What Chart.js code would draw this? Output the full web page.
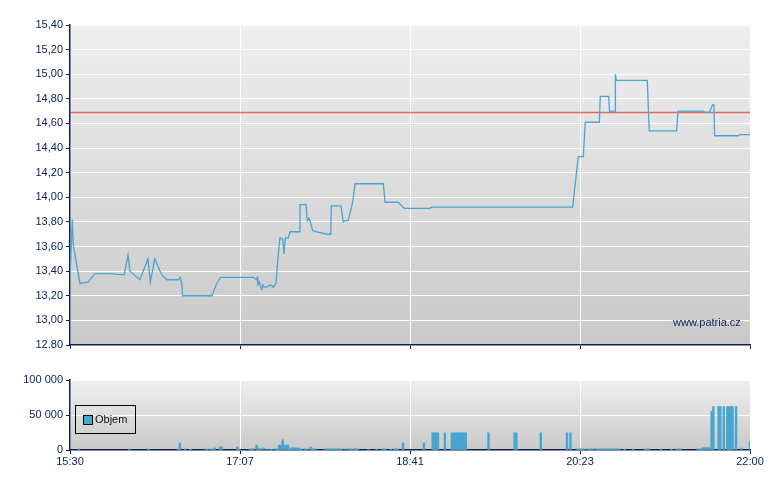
<!DOCTYPE html>
<html lang="cs">
<head>
<meta charset="utf-8">
<title>Patria – intraday</title>
<script src="https://cdn.jsdelivr.net/npm/chart.js@4.4.1/dist/chart.umd.min.js"></script>
<style>
  html,body{margin:0;padding:0;background:#fff;width:780px;height:490px;overflow:hidden;
    font-family:'Liberation Sans',Arial,sans-serif}
  #wrapP{position:absolute;left:0;top:0;width:780px;height:360px}
  #wrapV{position:absolute;left:0;top:360px;width:780px;height:130px}
  .wm{position:absolute;left:673px;top:316px;font-size:11px;color:#1b2b63;z-index:2}
  .lg{position:absolute;left:75px;top:405px;width:61px;height:29px;border:1px solid #000;
      box-sizing:border-box;z-index:2}
  .lg i{position:absolute;left:7px;top:9px;width:8px;height:8px;border:1px solid #000;background:#47a6cf}
  .lg span{position:absolute;left:19px;top:7px;font-size:11px;color:#111;line-height:12px}
</style>
</head>
<body>
<div id="wrapP"><canvas id="cPrice"></canvas></div>
<div id="wrapV"><canvas id="cVol"></canvas></div>
<div class="wm">www.patria.cz</div>
<div class="lg"><i></i><span>Objem</span></div>

<script>
/* osa x: minuty od 15:30 (0..390), popisky na ctvrtinach */
const X_TICKS  = [0, 97.5, 195, 292.5, 390];
const X_LABELS = ['15:30','17:07','18:41','20:23','22:00'];

const PREV_CLOSE = 14.69;     // cervena cara

/* kurz */
const PRICE_MIN = [0,1.3,1.9,5.7,10.5,14.3,22.9,31.1,33.3,34.4,
  40.1,44.7,46.1,48.6,52.6,55.5,62.1,63.1,64.1,64.6,
  81.4,84.1,86.4,105.1,106.7,107.4,107.8,108.6,109.4,110.1,
  110.5,111.3,112.8,115.1,116.6,118.1,119.5,120.4,122.0,122.7,
  123.5,125.2,126.2,131.5,131.9,135.4,136.1,137.2,139.2,141.5,
  147.2,149.5,149.9,155.4,156.7,157.7,159.6,162.1,163.5,179.7,
  180.7,188.3,191.7,206.5,207.6,288.3,291.5,294.4,295.5,303.6,
  304.1,308.9,309.5,310.3,312.6,312.8,313.3,331.1,332.2,347.9,
  348.7,363.2,364.1,366.6,368.6,369.3,369.7,383.2,384.2,390];
const PRICE_VAL = [13.33,13.82,13.61,13.30,13.31,13.38,13.38,13.37,13.53,13.40,
  13.33,13.50,13.31,13.50,13.37,13.33,13.33,13.35,13.30,13.20,
  13.20,13.30,13.35,13.35,13.33,13.35,13.29,13.31,13.27,13.25,
  13.29,13.27,13.27,13.29,13.27,13.30,13.54,13.67,13.66,13.54,
  13.67,13.67,13.72,13.72,13.94,13.94,13.81,13.83,13.73,13.72,
  13.70,13.70,13.93,13.93,13.80,13.81,13.81,13.96,14.11,14.11,
  13.96,13.96,13.91,13.91,13.92,13.92,14.33,14.33,14.61,14.61,
  14.82,14.82,14.69,14.70,14.70,15.00,14.95,14.95,14.54,14.54,
  14.70,14.70,14.69,14.69,14.75,14.75,14.50,14.50,14.51,14.51];

/* objem (po minutach) */
const VOL_MIN = [
  5,34,45,62,63,66,69,78,79,81,82,83,86,87,96,97,
  103,104,105,107,108,109,111,113,115,116,118,119,
  120,121,122,123,124,125,126,127,128,129,130,131,
  132,133,135,136,138,139,140,141,
  146,147,148,149,150,151,152,153,154,155,156,
  158,160,161,162,163,164,165,171,176,179,180,181,184,186,187,188,
  191,203,208,209,210,211,215,
  219,220,221,222,223,224,225,226,227,
  240,255,256,270,285,287,
  291,292,293,294,295,297,298,299,300,
  302,303,304,305,306,307,308,309,310,311,312,313,314,315,
  318,323,330,331,332,339,345,348,349,350,360,361,362,
  363,364,365,366,367,368,369,372,373,375,377,378,379,380,382,385,390];
const VOL_QTY = [
  1500,1200,1200,1000,10000,1500,1000,1400,1400,1400,1400,3000,4500,4500,4500,1000,
  1500,1500,1500,7000,3000,1500,3000,1200,1200,1200,1500,1500,
  7000,7000,14500,7000,7000,7000,1500,3000,3000,3000,3000,3000,
  1500,1500,1500,1500,4500,1500,1500,1500,
  1500,1500,1500,1500,1500,1500,1500,1500,1500,1500,1500,
  1500,1500,1500,1500,1500,1500,1500,1200,1200,1500,1500,1500,1200,1500,1500,1500,
  10000,10000,24500,24500,24500,24500,24500,
  24500,24500,24500,24500,24500,24500,24500,24500,24500,
  24500,24500,24500,24500,24500,24500,
  1500,1500,1500,1500,1500,1500,1500,1500,1500,
  1500,1500,1500,1500,1500,1500,1500,1500,1500,1500,1500,1500,1500,1500,
  1200,1200,1500,1500,1500,1200,1200,1500,1500,1500,1500,1500,1500,
  3300,3300,3300,3300,3300,55000,62000,62000,62000,62000,62000,62000,62000,62000,62000,3000,11500];

const NAVY = '#0b1f52';

/* sedy gradient pod grafem */
const plotBg = {
  id:'plotBg',
  beforeDraw(chart){
    const {ctx, chartArea:a} = chart;
    const g = ctx.createLinearGradient(0, a.top, 0, a.bottom);
    g.addColorStop(0, '#efefef'); g.addColorStop(1, '#c9c9c9');
    ctx.save(); ctx.fillStyle = g;
    ctx.fillRect(a.left, a.top, a.right - a.left, a.bottom - a.top);
    ctx.restore();
  }
};

function xScale(labels){
  return {
    type:'linear', min:0, max:390, offset:false,
    afterBuildTicks: s => { s.ticks = X_TICKS.map(v => ({value:v})); },
    afterFit: s => { s.height = labels ? 40 : 15; },
    ticks:{display:labels, autoSkip:false, maxRotation:0, padding:1, color:NAVY,
           font:{size:11}, callback:(v,i) => X_LABELS[i]},
    grid:{color:'#ffffff', lineWidth:1, tickColor:NAVY, tickLength:4, offset:false},
    border:{color:NAVY, width:1.5}
  };
}
function yScale(extra){
  return Object.assign({
    afterFit: s => { s.width = 70; },
    grid:{color:'#ffffff', lineWidth:1, tickColor:NAVY, tickLength:4},
    border:{color:NAVY, width:1.5}
  }, extra);
}

const base = {
  responsive:true, maintainAspectRatio:false, animation:false,
  plugins:{legend:{display:false}, tooltip:{enabled:false}}
};

function main(){
  Chart.defaults.font.family = "'Liberation Sans',Arial,sans-serif";
  Chart.defaults.font.size = 11;
  Chart.defaults.color = NAVY;

  new Chart(document.getElementById('cPrice'), {
    type:'line',
    data:{datasets:[
      {data:PRICE_MIN.map((t,i)=>({x:t, y:PRICE_VAL[i]})), borderColor:'#4aa5d1',
       borderWidth:1.3, pointRadius:0, tension:0, order:1},
      {data:[{x:0, y:PREV_CLOSE},{x:390, y:PREV_CLOSE}], borderColor:'rgba(226,82,82,0.85)',
       borderWidth:1.5, pointRadius:0, order:2}
    ]},
    options:{...base,
      layout:{padding:{top:25, right:30, left:0, bottom:0}},
      scales:{
        x:xScale(false),
        y:yScale({min:12.8, max:15.4,
          ticks:{stepSize:0.2, padding:3, color:NAVY,
                 callback:(v,i) => i === 0 ? v.toFixed(2) : v.toFixed(2).replace('.', ',')}})
      }
    },
    plugins:[plotBg]
  });

  new Chart(document.getElementById('cVol'), {
    type:'bar',
    data:{datasets:[
      {data:VOL_MIN.map((t,i)=>({x:t, y:VOL_QTY[i]})), backgroundColor:'#47a6cf',
       borderWidth:0, barPercentage:1, categoryPercentage:1}
    ]},
    options:{...base,
      layout:{padding:{top:20, right:30, left:0, bottom:0}},
      scales:{
        x:xScale(true),
        y:yScale({min:0, max:100000,
          ticks:{stepSize:50000, padding:3, color:NAVY,
                 callback:v => String(v).replace(/\B(?=(\d{3})+(?!\d))/g, ' ')}})
      }
    },
    plugins:[plotBg]
  });
}
window.addEventListener('DOMContentLoaded', main);
</script>
</body>
</html>
